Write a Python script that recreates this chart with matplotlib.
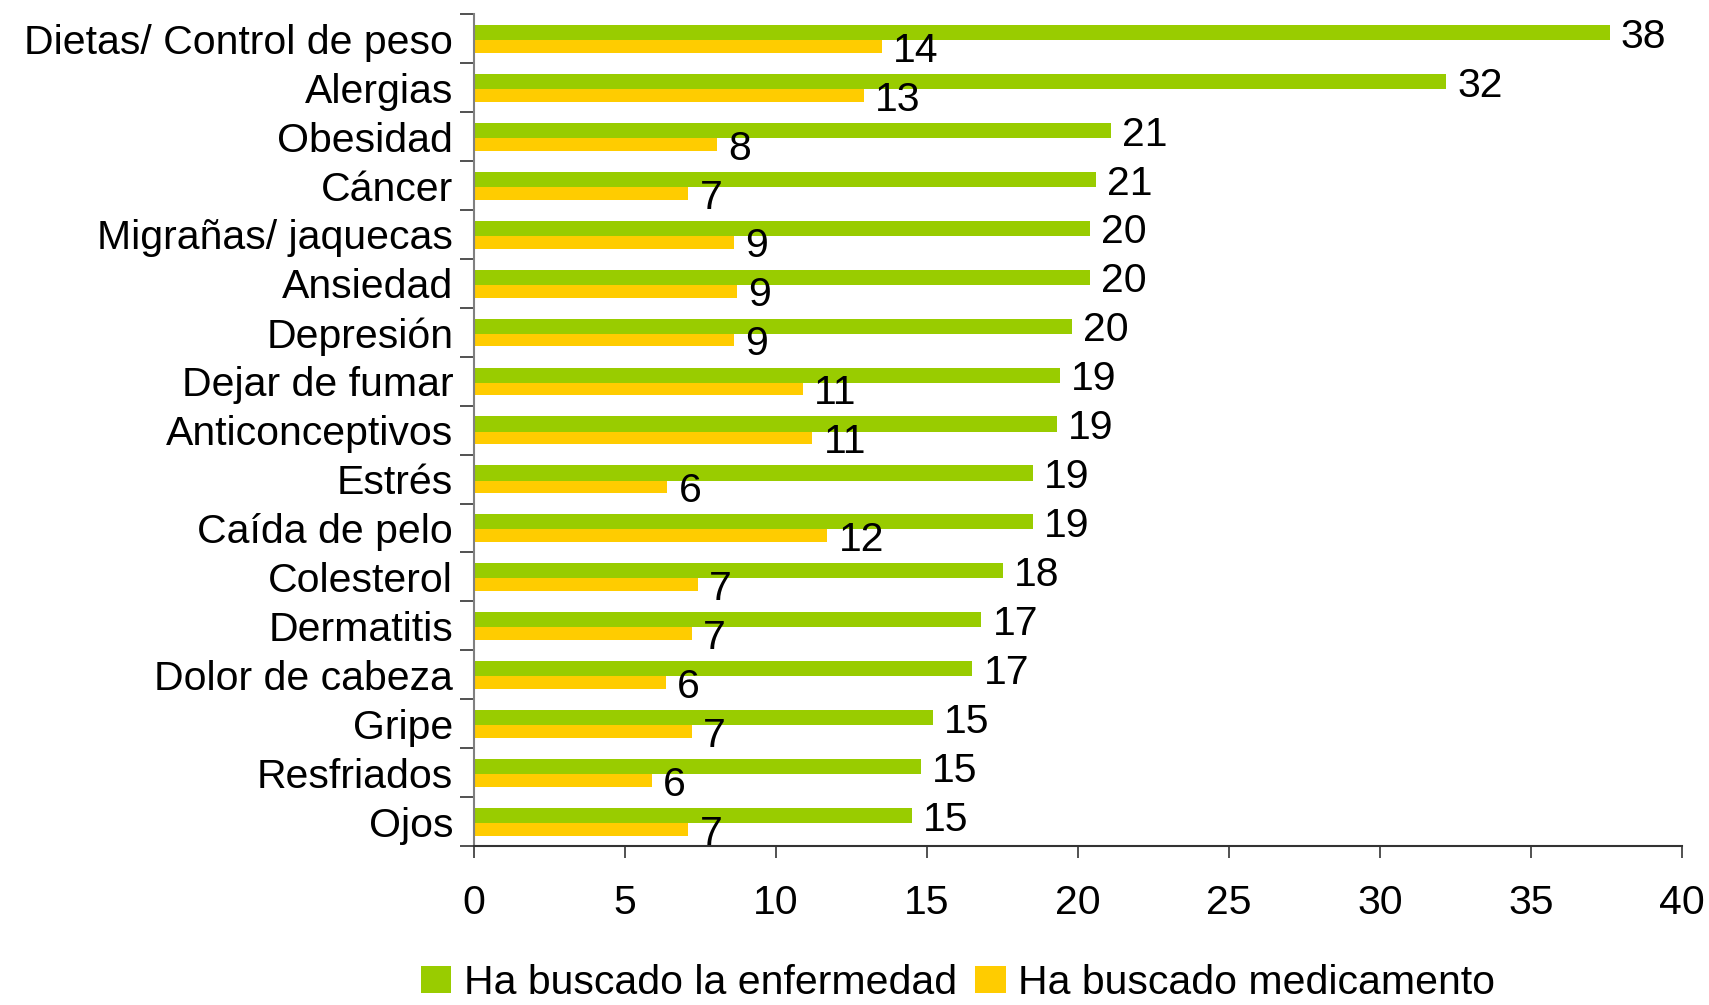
import numpy as np
import matplotlib.pyplot as plt

plt.rcParams['font.family'] = ['Liberation Sans', 'DejaVu Sans']

# data (bar lengths estimated, labels as printed)
categorias = ['Dietas/ Control de peso', 'Alergias', 'Obesidad', 'Cáncer',
              'Migrañas/ jaquecas', 'Ansiedad', 'Depresión', 'Dejar de fumar',
              'Anticonceptivos', 'Estrés', 'Caída de pelo', 'Colesterol',
              'Dermatitis', 'Dolor de cabeza', 'Gripe', 'Resfriados', 'Ojos']
enfermedad = [37.6, 32.2, 21.1, 20.6, 20.4, 20.4, 19.8, 19.4, 19.3,
              18.5, 18.5, 17.5, 16.8, 16.5, 15.2, 14.8, 14.5]
medicamento = [13.5, 12.9, 8.05, 7.1, 8.6, 8.7, 8.6, 10.9, 11.2,
               6.4, 11.7, 7.4, 7.2, 6.35, 7.2, 5.9, 7.1]
etiq_enfermedad = [38, 32, 21, 21, 20, 20, 20, 19, 19, 19, 19, 18, 17, 17, 15, 15, 15]
etiq_medicamento = [14, 13, 8, 7, 9, 9, 9, 11, 11, 6, 12, 7, 7, 6, 7, 6, 7]
series = ['Ha buscado la enfermedad', 'Ha buscado medicamento']
xticks = [0, 5, 10, 15, 20, 25, 30, 35, 40]

verde = '#99CC00'
amarillo = '#FFCC00'
fs = 29.5

fig = plt.figure(figsize=(17.09, 10.05), dpi=100)
ax = fig.add_axes([0.2774, 0.1582, 0.9842 - 0.2774, 0.9858 - 0.1582])

y = np.arange(len(categorias))
hg, hy = 0.31, 0.26
b1 = ax.barh(y - 0.125, enfermedad, height=hg, color=verde, label=series[0])
b2 = ax.barh(y + 0.16, medicamento, height=hy, color=amarillo, label=series[1])

# etiquetas de valor
for i in range(len(categorias)):
    ax.annotate(str(etiq_enfermedad[i]), (enfermedad[i], y[i] - 0.125),
                xytext=(8, -3), textcoords='offset points',
                va='center', ha='left', fontsize=fs)
    ax.annotate(str(etiq_medicamento[i]), (medicamento[i], y[i] + 0.16),
                xytext=(8, -3), textcoords='offset points',
                va='center', ha='left', fontsize=fs)

ax.set_xlim(0, 40)
ax.set_ylim(len(categorias) - 0.5, -0.5)
ax.set_xticks(xticks)
ax.set_xticklabels([str(t) for t in xticks], fontsize=fs)
ax.set_yticks(y)
ax.set_yticklabels(categorias, fontsize=fs)
ax.set_yticks(np.arange(len(categorias) + 1) - 0.5, minor=True)

ax.tick_params(axis='y', which='major', length=0, pad=15)
ax.tick_params(axis='y', which='minor', length=10, width=1.2, color='#333333')
ax.tick_params(axis='x', which='major', length=8.6, width=1.2, color='#333333', pad=19)

for s in ['top', 'right']:
    ax.spines[s].set_visible(False)
ax.spines['left'].set_color('#808080')
ax.spines['left'].set_linewidth(1.5)
ax.spines['bottom'].set_color('#333333')
ax.spines['bottom'].set_linewidth(1.5)

fig.legend(handles=[b1, b2], labels=series, loc='center',
           bbox_to_anchor=(0.5606, 0.022), ncol=2, frameon=False,
           fontsize=fs, handlelength=0.75, handleheight=0.65,
           handletextpad=0.3, columnspacing=0.45, borderpad=0)

fig.savefig('out.png', dpi=100)
